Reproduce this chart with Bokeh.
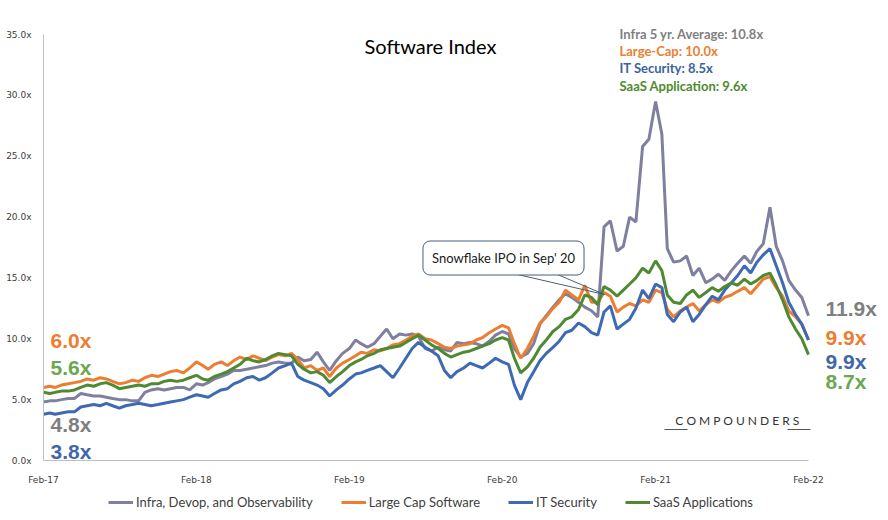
from datetime import datetime
from bokeh.plotting import figure
from bokeh.models import (Range1d, FixedTicker, PrintfTickFormatter, DatetimeTickFormatter,
                          Legend, LegendItem, Label, ColumnDataSource)
from bokeh.embed import file_html
from bokeh.resources import INLINE

# ---- data (semi-monthly readings, Feb-17 .. Feb-22) ----
dates = []
for yr in range(2017, 2023):
    for mo in range(1, 13):
        for dy in (1, 16):
            d = datetime(yr, mo, dy)
            if datetime(2017, 2, 1) <= d <= datetime(2022, 2, 1):
                dates.append(d)

infra = [4.8,4.9,4.9,5.0,5.1,5.1,5.5,5.4,5.3,5.3,5.2,5.1,5.0,5.0,4.9,4.9,5.6,5.8,5.9,5.8,5.9,6.0,6.0,5.8,6.3,
         6.2,6.4,6.7,6.9,7.1,7.4,7.4,7.5,7.6,7.7,7.8,8.0,8.1,8.0,8.0,8.5,8.2,8.3,8.9,8.1,7.4,8.2,8.8,9.2,
         9.9,9.6,9.3,9.6,10.2,10.8,10.0,10.4,10.3,10.4,10.2,9.2,9.0,9.3,9.1,9.0,9.7,9.6,9.7,9.6,9.4,9.8,10.3,10.6,
         10.4,9.2,8.5,8.8,9.6,11.2,11.9,12.6,13.2,13.7,13.4,13.0,12.6,12.3,11.8,19.2,19.7,17.2,17.6,20.0,19.6,25.8,26.4,29.5,
         26.8,17.4,16.3,16.4,16.8,15.2,15.8,14.6,14.9,15.3,14.8,15.6,16.2,16.8,16.2,17.2,17.8,20.8,17.6,16.4,14.8,14.0,13.4,11.9]
large_cap = [6.0,6.1,6.0,6.2,6.3,6.4,6.5,6.7,6.6,6.8,6.7,6.5,6.3,6.4,6.6,6.5,6.8,7.0,6.9,7.1,7.3,7.4,7.2,7.6,8.1,
             7.8,7.5,7.9,8.1,7.8,8.2,8.5,8.3,8.6,8.4,8.2,8.5,8.7,8.6,8.8,8.3,7.6,7.8,7.4,7.6,6.9,7.6,8.0,8.3,
             8.6,8.9,8.8,9.1,9.0,9.2,9.5,9.6,9.9,10.2,10.4,10.0,9.9,9.6,9.3,9.2,9.4,9.5,9.6,9.9,10.1,10.5,10.8,11.1,
             10.9,9.6,8.4,9.2,10.2,11.3,11.8,12.5,13.0,14.0,13.6,13.2,14.4,13.0,13.0,13.8,13.5,12.2,12.6,12.9,12.7,13.2,13.0,14.0,
             13.8,12.4,11.8,12.3,12.6,12.9,12.3,12.8,13.2,13.0,13.4,13.6,13.9,14.2,13.7,14.3,14.9,15.1,14.2,13.5,12.3,11.8,11.2,9.9]
it_security = [3.8,3.9,3.8,3.9,4.0,4.0,4.4,4.5,4.6,4.5,4.7,4.5,4.3,4.5,4.6,4.7,4.6,4.5,4.6,4.7,4.8,4.9,5.0,5.2,5.4,
               5.3,5.2,5.5,5.8,5.9,6.3,6.5,6.8,6.9,6.6,6.8,7.2,7.6,7.8,8.0,6.9,6.6,6.4,6.2,5.9,5.3,5.8,6.2,6.7,
               7.1,7.2,7.4,7.6,7.8,7.3,6.8,7.6,8.4,9.2,9.7,9.3,9.0,8.6,7.4,6.8,7.3,7.6,8.0,7.8,7.6,8.0,8.4,8.1,
               7.9,6.2,5.0,6.4,7.3,8.2,8.8,9.3,9.8,10.5,10.7,11.3,11.0,10.5,10.3,12.2,12.7,10.8,11.2,11.6,12.5,14.0,13.3,14.5,
               14.2,12.0,11.4,12.2,12.6,11.4,12.0,12.8,13.5,13.2,14.0,14.6,15.2,16.0,15.4,16.3,16.9,17.4,16.0,14.6,13.0,12.0,11.2,9.9]
saas = [5.6,5.5,5.6,5.7,5.7,5.8,6.0,6.2,6.1,6.3,6.4,6.2,5.9,6.0,6.1,6.2,6.1,6.3,6.3,6.5,6.6,6.5,6.6,6.8,7.0,
        6.7,6.6,6.9,7.1,7.3,7.6,7.9,8.4,8.2,8.1,8.3,8.6,8.8,8.7,8.6,7.9,7.5,7.2,7.3,7.0,6.4,6.9,7.3,7.8,
        8.1,8.3,8.6,8.8,9.1,9.2,9.3,9.4,9.7,10.0,10.3,9.9,9.5,9.2,8.8,8.5,8.7,8.9,9.0,9.2,9.4,9.6,9.9,10.1,
        9.9,8.4,7.2,7.7,8.4,9.3,9.9,10.6,11.0,11.6,11.8,12.4,13.6,13.4,12.8,14.3,14.0,13.5,14.0,14.5,15.0,15.8,15.4,16.4,
        15.6,13.6,13.0,12.9,13.6,14.0,13.4,13.8,14.2,13.9,14.3,14.6,14.4,14.9,14.5,14.8,15.2,15.4,14.4,13.2,11.8,10.8,10.0,8.7]

series_names = ["Infra, Devop, and Observability", "Large Cap Software", "IT Security", "SaaS Applications"]
start_labels = ["4.8x", "6.0x", "3.8x", "5.6x"]
end_labels = ["11.9x", "9.9x", "9.9x", "8.7x"]
averages = ["Infra 5 yr. Average: 10.8x", "Large-Cap: 10.0x", "IT Security: 8.5x", "SaaS Application: 9.6x"]
tick_years = [2017, 2018, 2019, 2020, 2021, 2022]
y_ticks = [0, 5, 10, 15, 20, 25, 30, 35]

# ---- styling ----
line_colors = ["#7f7f9f", "#ed7d31", "#3d6ab3", "#4f8a32"]
text_colors = ["#7f7f7f", "#ed7d31", "#3f68a8", "#6aa84f"]
avg_colors = ["#7f7f7f", "#ed7d31", "#3a63a0", "#4e8a2e"]

def ms(d):
    return (d - datetime(1970, 1, 1)).total_seconds() * 1000.0

x0 = datetime(2017, 2, 1)
x1 = datetime(2022, 2, 1)

# layout geometry: data area spans px 43..808 (x) and 460..34 (y, 0..35)
def px_to_val(y):
    return (460 - y) / (426 / 35)

def px_to_date(x):
    return ms(x0) + (x - 43) / 765 * (ms(x1) - ms(x0))

p = figure(width=888, height=520, output_backend="svg", toolbar_location=None,
           x_axis_type="datetime",
           x_range=Range1d(px_to_date(0), px_to_date(888)),
           y_range=Range1d(px_to_val(520), px_to_val(0)),
           min_border_left=0, min_border_right=0, min_border_top=0, min_border_bottom=0)
p.outline_line_color = None
p.grid.grid_line_color = None
p.background_fill_color = "white"
p.border_fill_color = "white"

src = ColumnDataSource(dict(date=[ms(d) for d in dates], infra=infra, large=large_cap,
                            it=it_security, saas=saas))
keys = ["infra", "large", "it", "saas"]
renderers = []
for k, c in zip(keys, line_colors):
    r = p.line("date", k, source=src, line_color=c, line_width=3)
    renderers.append(r)

# axes (drawn inside the frame at fixed locations)
p.yaxis.ticker = FixedTicker(ticks=y_ticks)
p.yaxis.formatter = PrintfTickFormatter(format="%.1fx")
p.yaxis.bounds = (0, 35)
p.yaxis.fixed_location = ms(x0)
p.xaxis.ticker = FixedTicker(ticks=[ms(datetime(y, 2, 1)) for y in tick_years])
fmt = "%b-%y"
p.xaxis.formatter = DatetimeTickFormatter(milliseconds=fmt, seconds=fmt, minsec=fmt, minutes=fmt,
                                          hourmin=fmt, hours=fmt, days=fmt, months=fmt, years=fmt)
p.xaxis.fixed_location = 0
p.xaxis.bounds = (ms(x0), ms(x1))
for ax in (p.xaxis[0], p.yaxis[0]):
    ax.axis_line_color = "#bfbfbf"
    ax.axis_line_width = 1
    ax.major_tick_line_color = None
    ax.minor_tick_line_color = None
    ax.major_label_text_font = "DejaVu Sans"
    ax.major_label_text_font_size = "9px"
    ax.major_label_text_color = "#404040"
p.yaxis.major_label_standoff = 6
p.xaxis.major_label_standoff = 8

# legend (below the axis, inside the extended frame)
legend = Legend(items=[LegendItem(label=n, renderers=[r]) for n, r in zip(series_names, renderers)],
                orientation="horizontal", location=(108, 8), margin=0, padding=4,
                glyph_width=25, label_standoff=3, spacing=28,
                label_text_font="Lato", label_text_font_size="13px", label_text_color="#404040",
                border_line_color=None, background_fill_alpha=0)
p.add_layout(legend)

# title
p.add_layout(Label(x=px_to_date(430), y=px_to_val(45), text="Software Index", text_align="center",
                   text_baseline="middle", text_font="Lato", text_font_size="20px", text_color="#000000"))

# averages block
for i, (t, c) in enumerate(zip(averages, avg_colors)):
    p.add_layout(Label(x=px_to_date(619), y=px_to_val(33 + 17.4 * i), text=t, text_baseline="middle",
                       text_font="Lato", text_font_style="bold", text_font_size="13px", text_color=c))

# start labels (left)
start_y = [424, 340, 451, 367]
for t, c, yy in zip(start_labels, text_colors, start_y):
    p.add_layout(Label(x=ms(x0), y=px_to_val(yy), x_offset=7, text=t, text_baseline="middle",
                       text_font="Liberation Sans", text_font_style="bold", text_font_size="21px",
                       text_color=c))

# end labels (right)
end_y = [308, 337, 361, 381]
for t, c, yy in zip(end_labels, text_colors, end_y):
    p.add_layout(Label(x=ms(x1), y=px_to_val(yy), x_offset=17, text=t, text_baseline="middle",
                       text_font="Liberation Sans", text_font_style="bold", text_font_size="21px",
                       text_color=c))

# callout
p.add_layout(Label(x=px_to_date(503), y=px_to_val(257.5), text="Snowflake IPO in Sep' 20",
                   text_align="center", text_baseline="middle", text_font="Lato", text_font_size="13px",
                   text_color="#1a1a1a", background_fill_color="white", border_line_color="#44617b",
                   border_line_width=1, padding=9, border_radius=7))
p.segment(x0=[px_to_date(517), px_to_date(557)], y0=[px_to_val(274)] * 2,
          x1=[px_to_date(604)] * 2, y1=[px_to_val(294)] * 2, line_color="#44617b", line_width=1)

# logo
p.add_layout(Label(x=px_to_date(737), y=px_to_val(420), text="C O M P O U N D E R S", text_align="center",
                   text_baseline="middle", text_font="Lato", text_font_size="12px", text_color="#333333"))
p.segment(x0=[px_to_date(664), px_to_date(787)], y0=[px_to_val(429)] * 2,
          x1=[px_to_date(687), px_to_date(810)], y1=[px_to_val(429)] * 2, line_color="#555555", line_width=1)

open("out.html", "w").write(file_html(p, INLINE))
